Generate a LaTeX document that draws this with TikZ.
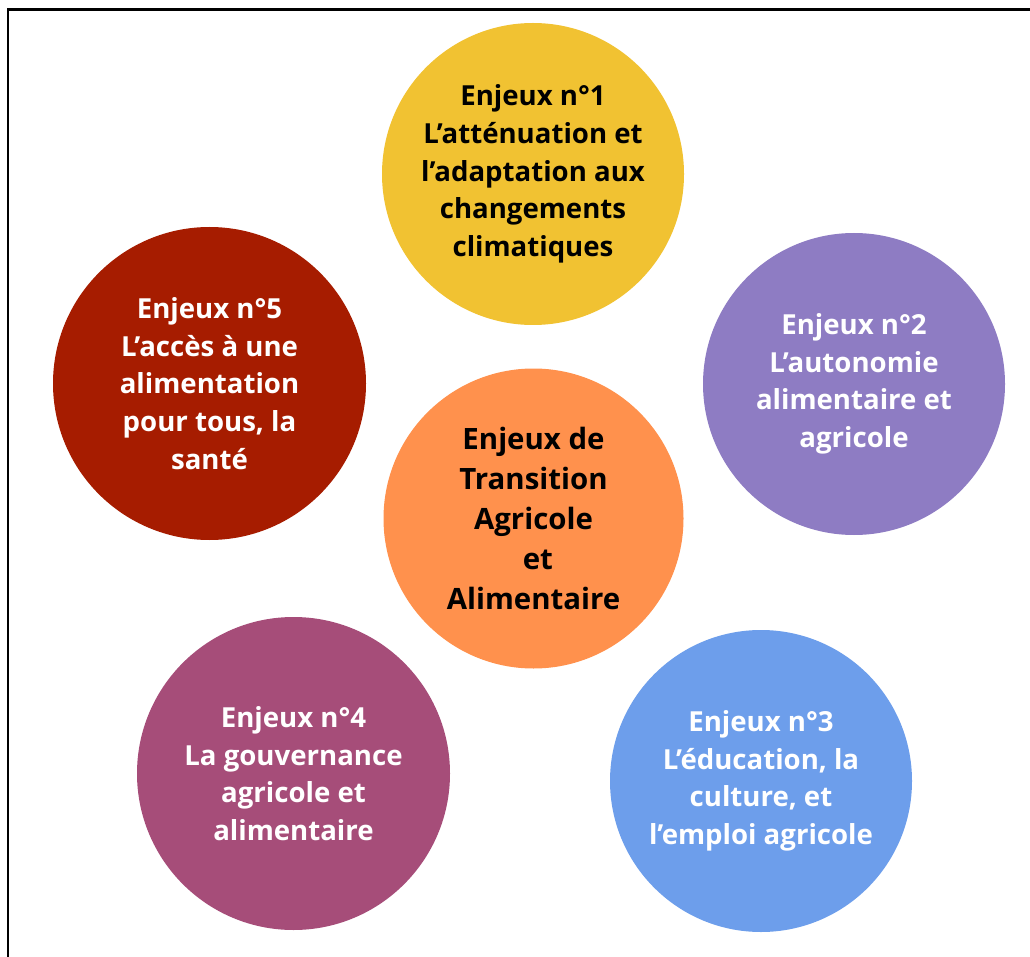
\documentclass[tikz,border=0pt]{standalone}
\usepackage{fontspec}
\setmainfont{Open Sans}
\begin{document}
\begin{tikzpicture}[x=1pt,y=-1pt,
  enjeu/.style={circle, inner sep=0pt, minimum size=#1, align=center,
    font=\bfseries\fontsize{27.6}{37.6}\selectfont, text=white},
  hub/.style={circle, inner sep=0pt, minimum size=300pt, align=center,
    font=\bfseries\fontsize{29.4}{40}\selectfont, text=black}]
\definecolor{cYellow}{HTML}{F1C232}
\definecolor{cPurple}{HTML}{8E7CC3}
\definecolor{cRed}{HTML}{A61C00}
\definecolor{cOrange}{HTML}{FF914D}
\definecolor{cMagenta}{HTML}{A64D79}
\definecolor{cBlue}{HTML}{6D9EEB}
\useasboundingbox (0,0) rectangle (1030,957);

% frame (open on the right and bottom)
\draw[line width=2.5pt] (8,957) -- (8,9.5) -- (1030,9.5);

% surrounding issues
\node[enjeu=302pt, fill=cYellow, text=black] (e1) at (533,174)
  {Enjeux n°1\\L’atténuation et\\l’adaptation aux\\changements\\climatiques};
\node[enjeu=302pt, fill=cPurple] (e2) at (854,384)
  {Enjeux n°2\\L’autonomie\\alimentaire et\\agricole};
\node[enjeu=302pt, fill=cBlue] (e3) at (761,781)
  {Enjeux n°3\\L’éducation, la\\culture, et\\l’emploi agricole};
\node[enjeu=313pt, fill=cMagenta] (e4) at (293.5,773.5)
  {Enjeux n°4\\La gouvernance\\agricole et\\alimentaire};
\node[enjeu=313pt, fill=cRed] (e5) at (209.5,383.5)
  {Enjeux n°5\\L’accès à une\\alimentation\\pour tous, la\\santé};

% central theme
\node[hub, fill=cOrange] (hub) at (533.5,518.5)
  {Enjeux de\\Transition\\Agricole\\\hspace*{0.3em}et\\Alimentaire};
\end{tikzpicture}
\end{document}
